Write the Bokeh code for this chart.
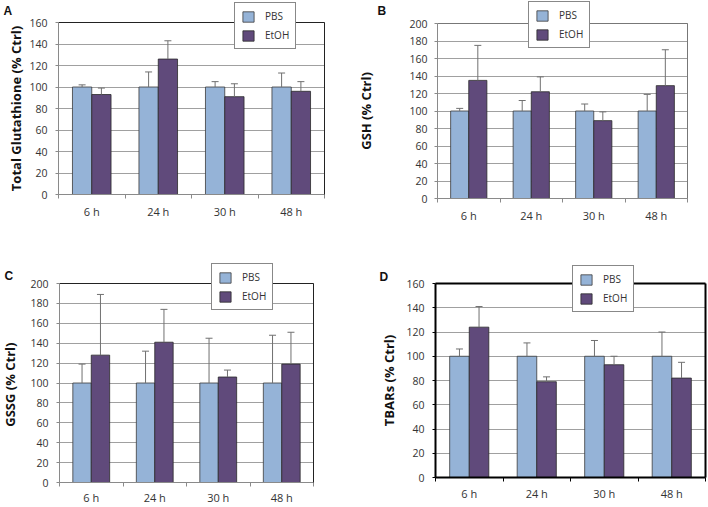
from bokeh.plotting import figure
from bokeh.models import (ColumnDataSource, Range1d, FixedTicker, SingleIntervalTicker,
                          Whisker, TeeHead, Legend, LegendItem, LinearAxis, Label)
from bokeh.layouts import row, column
from bokeh.embed import file_html
from bokeh.resources import INLINE

# ---------------- data ----------------
categories = ["6 h", "24 h", "30 h", "48 h"]
series_names = ["PBS", "EtOH"]

a_pbs = [100, 100, 100, 100]
a_pbs_err = [2, 14, 5, 13]
a_etoh = [93, 126, 91, 96]
a_etoh_err = [6, 17, 12, 9]

b_pbs = [100, 100, 100, 100]
b_pbs_err = [3, 12, 8, 19]
b_etoh = [135, 122, 89, 129]
b_etoh_err = [40, 17, 10, 41]

c_pbs = [100, 100, 100, 100]
c_pbs_err = [19, 32, 45, 48]
c_etoh = [128, 141, 106, 119]
c_etoh_err = [61, 33, 7, 32]

d_pbs = [100, 100, 100, 100]
d_pbs_err = [6, 11, 13, 20]
d_etoh = [124, 79, 93, 82]
d_etoh_err = [17, 4, 7, 13]

# ---------------- style ----------------
PBS_COLOR = "#95B3D7"
ETOH_COLOR = "#604A7B"
BAR_W = 0.29
TICK_FONT = "Open Sans"
LABEL_FONT = "Open Sans"


def make_panel(letter, ylabel, ymax, pbs, pbs_err, etoh, etoh_err,
               W, H, box, tick_standoff, label_standoff, legend_xy, letter_xy,
               box_color, box_width, axis_color, xlabel_standoff=5):
    L, R, T, B = box  # pixel position of the value box inside the figure
    n = len(categories)
    xs = [i + 1 for i in range(n)]
    x0, x1 = 0.5, n + 0.5
    ux = (x1 - x0) / (R - L)
    uy = ymax / (B - T)

    src = ColumnDataSource(dict(
        x_pbs=[x - BAR_W / 2 for x in xs],
        x_etoh=[x + BAR_W / 2 for x in xs],
        pbs=pbs, pbs_top=[v + e for v, e in zip(pbs, pbs_err)],
        etoh=etoh, etoh_top=[v + e for v, e in zip(etoh, etoh_err)],
    ))
    p = figure(width=W, height=H, output_backend="svg", toolbar_location=None,
               x_range=Range1d(x0 - L * ux, x1 + (W - R) * ux),
               y_range=Range1d(-(H - B) * uy, ymax + T * uy),
               min_border_left=0, min_border_right=0, min_border_top=0, min_border_bottom=0)
    p.background_fill_color = "white"
    p.border_fill_color = "white"
    p.outline_line_color = None

    r1 = p.vbar(x="x_pbs", top="pbs", width=BAR_W, source=src,
                fill_color=PBS_COLOR, line_color="#3a3a3a", line_width=0.8)
    r2 = p.vbar(x="x_etoh", top="etoh", width=BAR_W, source=src,
                fill_color=ETOH_COLOR, line_color="#2a2a2a", line_width=0.8)

    for base, low, up in (("x_pbs", "pbs", "pbs_top"), ("x_etoh", "etoh", "etoh_top")):
        w = Whisker(source=src, base=base, lower=low, upper=up, dimension="height",
                    line_color="#707070", line_width=1, lower_head=None,
                    upper_head=TeeHead(size=7, line_color="#707070", line_width=1),
                    level="overlay")
        p.add_layout(w)

    # x axis (bottom edge of the box)
    xa = p.xaxis[0]
    xa.fixed_location = 0
    xa.bounds = (x0, x1)
    xa.ticker = FixedTicker(ticks=xs, minor_ticks=[x - 0.5 for x in xs] + [xs[-1] + 0.5])
    xa.major_label_overrides = {x: c for x, c in zip(xs, categories)}
    xa.major_tick_in = 0
    xa.major_tick_out = 0
    xa.minor_tick_in = 0
    xa.minor_tick_out = 4
    xa.minor_tick_line_color = axis_color
    xa.axis_line_color = axis_color
    xa.axis_line_width = box_width
    xa.major_label_standoff = xlabel_standoff
    xa.major_label_text_font = TICK_FONT
    xa.major_label_text_font_size = "11px"
    xa.major_label_text_color = "#333333"

    # y axis (left edge of the box)
    ya = p.yaxis[0]
    ya.fixed_location = x0
    ya.bounds = (0, ymax)
    ya.ticker = SingleIntervalTicker(interval=20, num_minor_ticks=0)
    ya.major_tick_in = 0
    ya.major_tick_out = 3
    ya.minor_tick_out = 0
    ya.minor_tick_in = 0
    ya.major_tick_line_color = axis_color
    ya.axis_line_color = axis_color
    ya.axis_line_width = box_width
    ya.major_label_standoff = tick_standoff
    ya.major_label_text_font = TICK_FONT
    ya.major_label_text_font_size = "10.5px"
    ya.major_label_text_color = "#333333"
    ya.axis_label = ylabel
    ya.axis_label_standoff = label_standoff
    ya.axis_label_text_font = LABEL_FONT
    ya.axis_label_text_font_style = "bold"
    ya.axis_label_text_font_size = "13px"
    ya.axis_label_text_color = "#111111"

    # right and top edges of the box (bare axis lines)
    ra = LinearAxis(fixed_location=x1, bounds=(0, ymax), ticker=FixedTicker(ticks=[]),
                    axis_line_color=box_color, axis_line_width=box_width,
                    major_tick_in=0, major_tick_out=0, minor_tick_in=0, minor_tick_out=0)
    p.add_layout(ra, "right")
    ta = LinearAxis(fixed_location=ymax, bounds=(x0, x1), ticker=FixedTicker(ticks=[]),
                    axis_line_color=box_color, axis_line_width=box_width,
                    major_tick_in=0, major_tick_out=0, minor_tick_in=0, minor_tick_out=0)
    p.add_layout(ta, "above")

    p.xgrid.grid_line_color = None
    g = p.ygrid[0]
    g.ticker = ya.ticker
    g.bounds = (0, ymax)
    if "cross_bounds" in g.properties():
        g.cross_bounds = (x0, x1)
    g.grid_line_color = "#a0a0a0"
    g.grid_line_width = 1

    legend = Legend(items=[LegendItem(label=series_names[0], renderers=[r1]),
                           LegendItem(label=series_names[1], renderers=[r2])],
                    location=(legend_xy[0], H - legend_xy[1]), orientation="vertical",
                    border_line_color="#111111", border_line_width=1,
                    background_fill_color="white", background_fill_alpha=1,
                    padding=6, spacing=5, margin=0,
                    glyph_width=14, glyph_height=13, label_height=12, label_width=20,
                    label_standoff=10,
                    label_text_font=TICK_FONT, label_text_font_size="10px",
                    label_text_color="#333333", label_text_baseline="middle")
    p.add_layout(legend)

    p.add_layout(Label(x=letter_xy[0], y=H - letter_xy[1], x_units="screen", y_units="screen",
                       text=letter, text_font="Liberation Sans", text_font_style="bold",
                       text_font_size="12px", text_baseline="top", text_align="left",
                       text_color="#111111"))
    return p


# box = (left, right, top, bottom) in figure pixels; legend_xy = (left, bottom);
# letter_xy = (left, top)
pA = make_panel("A", "Total Glutathione (% Ctrl)", 160, a_pbs, a_pbs_err, a_etoh, a_etoh_err,
                354, 236, (58, 324, 22, 194), 8, 1, (234, 49), (3, 3),
                "#222222", 1, "#8a8a8a")
pB = make_panel("B", "GSH (% Ctrl)", 200, b_pbs, b_pbs_err, b_etoh, b_etoh_err,
                354, 236, (83, 333, 23, 198), 7, 31, (174, 48), (23, 3),
                "#777777", 1, "#8a8a8a")
pC = make_panel("C", "GSSG  (% Ctrl)", 200, c_pbs, c_pbs_err, c_etoh, c_etoh_err,
                354, 271, (59, 313, 47, 246), 8, 8, (211, 74), (4, 32),
                "#222222", 1, "#8a8a8a", xlabel_standoff=3)
pD = make_panel("D", "TBARs (% Ctrl)", 160, d_pbs, d_pbs_err, d_etoh, d_etoh_err,
                354, 271, (81, 351, 47, 241), 8, 5, (218, 76), (25, 33),
                "#000000", 2, "#000000", xlabel_standoff=4)

layout = column(row(pA, pB), row(pC, pD))
open("out.html", "w").write(file_html(layout, INLINE))
